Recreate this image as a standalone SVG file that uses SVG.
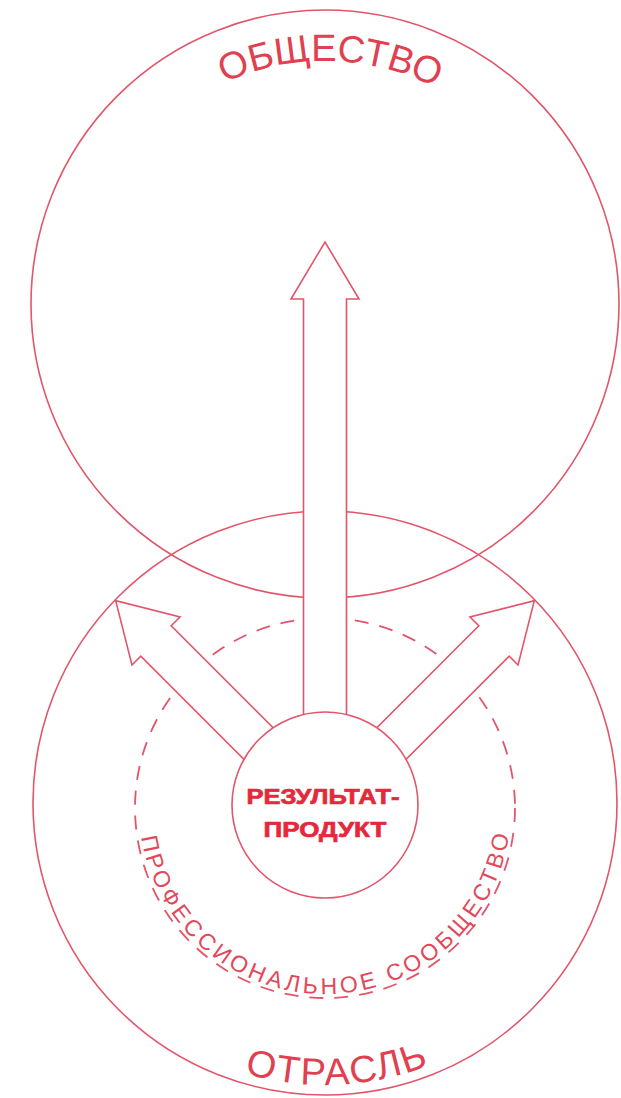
<svg xmlns="http://www.w3.org/2000/svg" width="621" height="1098" viewBox="0 0 621 1098">
<style>
.ln{fill:none;stroke:#e2556a;stroke-width:1.6}
.dash{fill:none;stroke:#e2556a;stroke-width:1.8;stroke-dasharray:14 11}
.arrow{fill:#ffffff;stroke:#e2556a;stroke-width:1.6;stroke-linejoin:miter}
.big{font-family:"Liberation Sans",Arial,sans-serif;fill:#e0404f;font-size:38px}
.ring{font-family:"Liberation Sans",Arial,sans-serif;fill:#e3485a;font-size:23px}
.core{font-family:"Liberation Sans",Arial,sans-serif;fill:#e6283c;stroke:#e6283c;stroke-width:0.7;font-size:22px;font-weight:900;text-anchor:middle}
</style>
<defs>
<path id="topArc" d="M82,304 A243,243 0 0 1 568,304"/>
<path id="botArc" d="M43,803 A282,282 0 0 0 607,803"/>
<path id="ringArc" d="M139,808 A186,186 0 0 0 511,808"/>
<polygon id="arrowV" points="-21.5,0 -21.5,-511 -34,-511 0,-568 34,-511 21.5,-511 21.5,0"/>
<polygon id="arrowD" points="-21.5,0 -21.5,-239 -34,-239 0,-296 34,-239 21.5,-239 21.5,0"/>
</defs>
<rect width="621" height="1098" fill="#ffffff"/>
<g id="society">
<circle class="ln" cx="325" cy="304" r="294"/>
<text class="big"><textPath href="#topArc" startOffset="50.7%" text-anchor="middle">ОБЩЕСТВО</textPath></text>
</g>
<g id="industry">
<circle class="ln" cx="325" cy="803" r="292"/>
<text class="big" letter-spacing="2"><textPath href="#botArc" startOffset="51.5%" text-anchor="middle">ОТРАСЛЬ</textPath></text>
</g>
<g id="community">
<circle class="dash" cx="325" cy="808" r="190"/>
<text class="ring"><textPath href="#ringArc" startOffset="29" textLength="528" lengthAdjust="spacing">ПРОФЕССИОНАЛЬНОЕ СООБЩЕСТВО</textPath></text>
</g>
<g id="connectors">
<use href="#arrowV" class="arrow" transform="translate(325,810)"/>
<use href="#arrowD" class="arrow" transform="translate(325,810) rotate(-45)"/>
<use href="#arrowD" class="arrow" transform="translate(325,810) rotate(45)"/>
</g>
<g id="result">
<circle cx="325" cy="805" r="93" fill="#ffffff" stroke="#e2556a" stroke-width="1.6"/>
<text class="core" x="323" y="804" textLength="153" lengthAdjust="spacingAndGlyphs">РЕЗУЛЬТАТ-</text>
<text class="core" x="325" y="837" textLength="123" lengthAdjust="spacingAndGlyphs">ПРОДУКТ</text>
</g>
</svg>
